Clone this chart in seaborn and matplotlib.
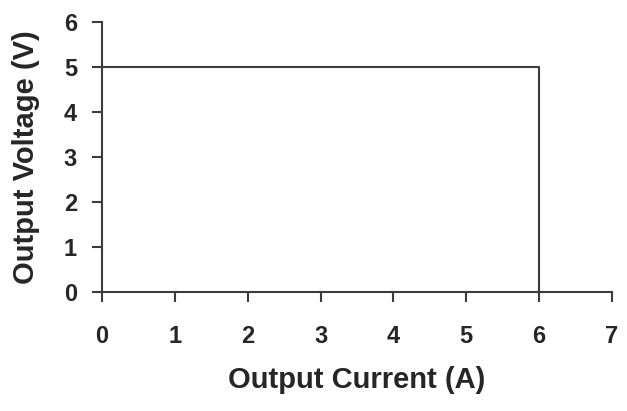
import matplotlib
matplotlib.use("Agg")
import matplotlib.pyplot as plt
import seaborn as sns
import pandas as pd

# Output characteristic (constant voltage, then current limit)
current = [0, 6, 6]
voltage = [5, 5, 0]
x_ticks = [0, 1, 2, 3, 4, 5, 6, 7]
y_ticks = [0, 1, 2, 3, 4, 5, 6]

sns.set_style("ticks")
plt.rcParams["font.family"] = ["Liberation Sans", "DejaVu Sans"]
plt.rcParams["font.weight"] = "bold"

df = pd.DataFrame({"current": current, "voltage": voltage})

fig = plt.figure(figsize=(6.27, 4.11), dpi=100)
ax = fig.add_axes([0.1627, 0.2895, 0.8133, 0.657])

sns.lineplot(data=df, x="current", y="voltage", sort=False, estimator=None,
             color="#3c3c3c", linewidth=1.5, ax=ax)

ax.set_xlim(0, 7)
ax.set_ylim(0, 6)
ax.set_xticks(x_ticks)
ax.set_yticks(y_ticks)
ax.set_xticklabels([str(t) for t in x_ticks], fontsize=17, fontweight="bold")
ax.set_yticklabels([str(t) for t in y_ticks], fontsize=17, fontweight="bold")
ax.tick_params(axis="x", length=7, width=1.5, color="#3c3c3c", pad=17)
ax.tick_params(axis="y", length=7, width=1.5, color="#3c3c3c", pad=11)

for side in ("top", "right"):
    ax.spines[side].set_visible(False)
for side in ("left", "bottom"):
    ax.spines[side].set_color("#3c3c3c")
    ax.spines[side].set_linewidth(1.5)

ax.set_xlabel("Output Current (A)", fontsize=21, fontweight="bold", labelpad=13)
ax.set_ylabel("Output Voltage (V)", fontsize=21, fontweight="bold")
ax.yaxis.set_label_coords(-0.122, 0.5)

fig.savefig("out.png", dpi=100, facecolor="white")
